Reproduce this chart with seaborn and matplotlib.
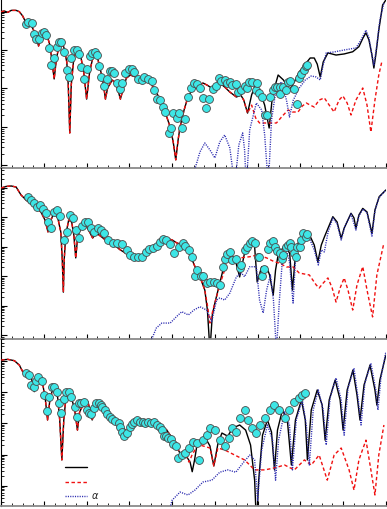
import numpy as np
import seaborn as sns
import matplotlib
matplotlib.use("Agg")
import matplotlib.pyplot as plt
from matplotlib.ticker import MultipleLocator, LogLocator, NullFormatter

# ---- panel 1 (top) ----
p1_shared_x = [0, 1.5, 3.1, 4.7, 7.0, 8.5, 10.1, 11.6, 13.0, 14.4, 15.8, 17.5, 18.6, 20.0, 21.4, 22.8, 23.7, 24.8, 25.8, 27.0,
               27.9, 29.3, 30.7, 31.4, 32.1, 32.8, 34.0, 35.7, 37.2, 38.6, 40.0, 41.4, 43.4, 45.1, 46.5, 47.9, 48.8, 49.8, 52.0, 53.5,
               54.9, 55.8, 57.2, 58.6, 60.5, 62.8, 65.1, 67.4, 69.8, 72.1, 74.4, 76.7, 79.1, 80.5, 81.7, 82.8, 83.7, 85.6, 87.4, 89.3,
               91.5, 94.4, 96.3, 98.5, 100.0, 102.3, 104.6, 107.0, 110.1, 112.1, 113.5, 115.3]
p1_shared_y = [9.9, 10.3, 9.5, 10.7, 10.7, 9.9, 7.6, 5.1, 4.5, 4.0, 2.8, 1.27, 2.05, 2.9, 2.45, 1.35, 0.55, 0.177, 0.55, 1.27,
               1.52, 1.2, 0.49, 0.123, 0.0070, 0.123, 0.62, 1.0, 0.70, 0.27, 0.053, 0.27, 0.84, 0.62, 0.30, 0.123, 0.053, 0.103, 0.166, 0.139,
               0.081, 0.053, 0.103, 0.187, 0.224, 0.199, 0.166, 0.157, 0.139, 0.091, 0.050, 0.0245, 0.010, 0.0041, 0.0014, 0.0046, 0.010, 0.0277, 0.060, 0.091,
               0.109, 0.139, 0.123, 0.103, 0.123, 0.139, 0.109, 0.081, 0.060, 0.068, 0.050, 0.023]
p1_black_x = [117.2, 119.1, 120.9, 123.3, 125.4, 127.0, 129.6, 132.1, 134.9, 137.2, 139.5, 142.3, 144.6, 146.5, 147.9, 149.3,
              150.7, 152.9, 156.7, 160.5, 164.5, 167.4, 169.3, 170.7, 172.1, 173.5, 174.4, 175.3, 176.7, 178.5, 180.0]
p1_black_y = [0.068, 0.131, 0.091, 0.037, 0.0094, 0.068, 0.224, 0.166, 0.091, 0.148, 0.27, 0.43, 0.62, 0.62, 0.43, 0.199,
              0.49, 0.84, 0.74, 0.79, 0.90, 1.22, 2.05, 2.8, 1.82, 0.74, 0.34, 0.74, 3.3, 14.8, 19.9]
p1_red_x = [117.2, 119.1, 120.9, 125.6, 128.8, 131.6, 134.3, 136.3, 138.9, 140.9, 142.8, 144.6, 146.5, 148.8, 151.2, 153.5,
            155.8, 158.1, 159.9, 161.9, 163.7, 166.0, 169.2, 171.2, 173.0, 174.9, 176.7, 178.1]
p1_red_y = [0.037, 0.0171, 0.0127, 0.0127, 0.0127, 0.0193, 0.0277, 0.0245, 0.0245, 0.035, 0.042, 0.037, 0.033, 0.050, 0.057, 0.037,
            0.0245, 0.050, 0.064, 0.042, 0.0205, 0.050, 0.103, 0.037, 0.0074, 0.050, 0.224, 0.49]
p1_blue_x = [88.4, 93.0, 95.3, 97.7, 100.0, 102.3, 104.6, 107.0, 109.3, 111.2, 113.0, 113.9, 114.7, 116.3, 119.4, 121.9, 123.3,
             125.0, 126.5, 128.8, 131.2, 133.5, 134.9, 136.7, 139.5, 142.3, 145.1, 147.4, 149.3, 150.7, 152.1, 155.8, 160.5, 166.0,
             168.4, 170.7, 172.1, 173.5, 174.4, 175.8, 177.2, 179.1]
p1_blue_y = [3e-4, 0.00224, 0.00384, 0.00253, 0.00157, 0.0041, 0.0062, 0.00285, 3e-4, 0.0034, 0.0070, 0.00253, 3e-4, 0.0084, 0.042,
             0.0277, 0.0062, 3e-4, 0.0152, 0.109, 0.148, 0.050, 0.0182, 0.050, 0.103, 0.166, 0.211, 0.199, 0.166, 0.41, 0.84, 0.89,
             1.0, 1.13, 1.82, 3.3, 2.05, 0.74, 0.41, 1.35, 6.0, 16.6]
p1_data_x = [11.6, 12.7, 14.3, 15.2, 16.3, 17.8, 18.9, 20.1, 20.9, 22.5, 23.3, 24.5, 26.0, 27.1, 28.2, 29.4, 30.7, 31.8, 32.9, 34.1,
             35.3, 36.4, 37.5, 38.7, 40.0, 41.5, 42.6, 43.7, 45.0, 45.7, 46.8, 48.0, 49.6, 50.8, 52.0, 53.0, 54.3, 55.5, 56.6, 58.1,
             59.7, 61.3, 62.3, 63.9, 65.9, 67.0, 68.5, 70.6, 71.6, 72.9, 74.1, 75.7, 76.7, 78.7, 79.4, 80.6, 82.2, 83.4, 84.8, 86.0,
             87.6, 88.8, 90.2, 91.5, 93.0, 94.6, 95.8, 97.3, 98.9, 100.5, 102.0, 103.1, 104.7, 105.7, 107.0, 107.8, 109.8, 110.8, 112.4, 114.0,
             115.0, 116.0, 117.5, 119.1, 119.9, 120.8, 121.9, 123.4, 124.2, 125.7, 127.0, 128.0, 129.2, 130.4, 130.7, 131.9, 133.2, 134.3, 135.0, 136.9,
             138.5, 139.4, 140.5, 141.5, 142.5, 143.1]
p1_data_y = [4.7, 5.4, 4.9, 2.6, 1.9, 1.9, 2.8, 3.0, 2.45, 1.11, 0.41, 0.61, 1.22, 1.64, 1.64, 0.90, 0.30, 0.20, 0.61, 1.0,
             1.0, 0.79, 0.37, 0.173, 0.33, 0.70, 0.85, 0.90, 0.74, 0.38, 0.20, 0.116, 0.173, 0.285, 0.285, 0.248, 0.136, 0.097, 0.136, 0.248,
             0.33, 0.33, 0.273, 0.173, 0.166, 0.195, 0.173, 0.160, 0.091, 0.052, 0.050, 0.0324, 0.0241, 0.0071, 0.0096, 0.0227, 0.0168, 0.0227, 0.0096, 0.0158,
             0.061, 0.105, 0.136, 0.131, 0.101, 0.056, 0.0306, 0.052, 0.095, 0.116, 0.184, 0.157, 0.166, 0.136, 0.150, 0.123, 0.131, 0.083, 0.091, 0.116,
             0.101, 0.150, 0.150, 0.091, 0.142, 0.075, 0.061, 0.0205, 0.0205, 0.061, 0.091, 0.107, 0.107, 0.111, 0.072, 0.107, 0.091, 0.150, 0.160, 0.095,
             0.040, 0.184, 0.238, 0.30, 0.38, 0.41]

# ---- panel 2 (middle) ----
p2_shared_x = [0, 2.3, 4.7, 7.0, 9.3, 11.6, 14.0, 16.3, 18.6, 20.5, 21.9, 23.3, 24.7, 26.5, 27.9, 28.6, 29.1, 29.5, 30.2, 31.6,
               33.0, 34.0, 34.9, 35.8, 37.2, 39.1, 40.9, 42.8, 44.6, 46.5, 48.8, 51.2, 53.5, 55.8, 58.1, 60.5, 65.1, 69.8, 74.4, 77.5,
               80.0, 82.2, 85.1, 88.4, 90.7, 93.0, 95.3]
p2_shared_y = [9.8, 11.1, 11.5, 10.6, 5.7, 3.9, 2.8, 2.2, 1.51, 0.81, 0.32, 0.81, 1.40, 0.95, 0.32, 0.036, 0.0029, 0.036, 0.25, 0.81,
               0.69, 0.25, 0.042, 0.215, 0.43, 0.59, 0.37, 0.199, 0.29, 0.23, 0.170, 0.135, 0.106, 0.078, 0.062, 0.053, 0.045, 0.078, 0.149, 0.194,
               0.170, 0.135, 0.115, 0.053, 0.0211, 0.0097, 0.0034]
p2_black_x = [96.5, 97.7, 98.8, 100.0, 102.3, 104.6, 107.0, 109.3, 111.6, 113.9, 116.6, 118.6, 119.8, 121.9, 124.2, 125.6, 127.3,
              128.4, 129.6, 132.7, 135.0, 136.3, 137.7, 138.9, 141.2, 144.3, 146.5, 148.2, 149.8, 151.3, 155.2, 157.2, 159.1, 160.5,
              163.7, 165.1, 166.0, 167.4, 169.2, 171.2, 173.5, 174.9, 176.9, 180.0]
p2_black_y = [7.2e-4, 3e-5, 4.9e-4, 0.00124, 0.0059, 0.028, 0.053, 0.042, 0.0095, 0.062, 0.149, 0.101, 0.0064, 0.0211, 0.0211,
              0.0111, 0.0023, 0.0164, 0.053, 0.115, 0.060, 0.0034, 0.053, 0.131, 0.287, 0.25, 0.115, 0.031, 0.115, 0.22, 1.05, 0.69,
              0.194, 0.43, 1.37, 0.95, 0.42, 1.20, 2.0, 1.51, 0.287, 1.77, 5.0, 8.4]
p2_red_x = [96.5, 97.7, 99.1, 100.8, 102.3, 104.6, 107.0, 111.6, 116.3, 120.0, 124.2, 127.9, 130.2, 133.5, 136.6, 139.5, 144.2,
            147.4, 148.8, 150.7, 152.9, 154.9, 156.7, 158.6, 160.5, 162.3, 164.5, 166.5, 169.2, 171.2, 173.8, 175.8, 179.1]
p2_red_y = [0.00106, 2.6e-4, 7.2e-4, 0.00203, 0.0051, 0.0166, 0.046, 0.042, 0.046, 0.053, 0.042, 0.031, 0.028, 0.0207, 0.0207,
            0.0129, 0.0111, 0.0051, 0.0040, 0.0059, 0.0088, 0.0040, 0.00134, 0.0040, 0.0088, 0.0034, 7.2e-4, 0.0051, 0.0213, 0.0034,
            4.2e-4, 0.0111, 0.135]
p2_blue_x = [68.8, 70.6, 72.6, 75.2, 79.1, 81.9, 84.5, 87.6, 90.2, 93.0, 96.1, 98.5, 100.8, 102.3, 104.6, 107.0, 110.1, 112.4,
             113.9, 116.3, 119.4, 120.9, 122.6, 124.2, 126.0, 127.4, 128.8, 130.2, 131.6, 133.5, 134.9, 136.6, 137.7, 139.1, 141.2,
             144.2, 146.5, 148.4, 149.8, 151.2, 153.0, 155.2, 157.2, 159.1, 160.9, 163.7, 166.0, 167.4, 169.3, 171.2, 173.5, 174.9,
             176.7, 180.0]
p2_blue_y = [3e-5, 7.8e-5, 1.77e-4, 2.6e-4, 2.6e-4, 4.2e-4, 6.3e-4, 4.9e-4, 7.2e-4, 9.3e-4, 7.2e-4, 2.9e-4, 0.00157, 0.00184,
             0.00157, 0.0027, 0.0097, 0.0129, 0.0097, 0.0211, 0.0211, 0.00157, 5.7e-4, 0.0034, 0.0111, 0.00157, 3e-5, 0.00157, 0.036,
             0.078, 0.031, 0.00124, 0.036, 0.135, 0.23, 0.199, 0.078, 0.0242, 0.078, 0.067, 0.32, 0.95, 0.59, 0.170, 0.51, 1.29, 0.37,
             1.10, 1.91, 1.40, 0.23, 1.64, 4.5, 8.4]
p2_data_x = [12.6, 14.0, 15.3, 16.7, 18.1, 19.5, 20.9, 22.1, 23.3, 24.7, 26.0, 27.4, 29.3, 30.7, 32.1, 33.5, 34.9, 36.3, 37.7, 39.1,
             40.5, 41.9, 43.3, 45.1, 46.5, 47.9, 49.8, 52.1, 54.4, 56.7, 59.1, 60.5, 62.0, 63.9, 65.9, 67.9, 69.4, 71.0, 72.9, 74.4,
             75.7, 77.2, 79.1, 80.9, 83.4, 85.0, 86.0, 88.0, 89.2, 90.7, 91.8, 93.3, 94.6, 96.1, 97.7, 99.5, 100.8, 102.3, 103.6, 104.6,
             105.7, 107.0, 107.8, 110.1, 111.6, 112.4, 113.9, 115.0, 116.3, 117.5, 118.6, 120.1, 120.8, 121.9, 122.9, 125.0, 126.0, 127.0, 128.0, 129.2,
             130.7, 131.2, 131.9, 133.2, 134.3, 135.0, 135.8, 136.9, 137.8, 138.5, 139.7, 140.5, 141.2, 142.5, 143.1]
p2_data_y = [4.9, 3.9, 3.05, 2.2, 2.6, 1.91, 1.40, 0.69, 0.43, 1.51, 1.77, 1.11, 0.170, 0.32, 1.20, 0.95, 0.37, 0.199, 0.51, 0.69,
             0.69, 0.43, 0.32, 0.43, 0.37, 0.29, 0.170, 0.135, 0.135, 0.124, 0.078, 0.053, 0.046, 0.044, 0.044, 0.068, 0.082, 0.093, 0.106, 0.149,
             0.184, 0.170, 0.124, 0.063, 0.096, 0.131, 0.106, 0.078, 0.044, 0.0102, 0.0164, 0.0102, 0.0102, 0.0061, 0.0066, 0.0066, 0.0058, 0.0051, 0.0211, 0.038,
             0.057, 0.068, 0.036, 0.038, 0.0187, 0.0242, 0.078, 0.101, 0.131, 0.161, 0.131, 0.046, 0.046, 0.0102, 0.0177, 0.084, 0.138, 0.161, 0.101, 0.074,
             0.060, 0.038, 0.053, 0.096, 0.115, 0.131, 0.096, 0.063, 0.044, 0.096, 0.096, 0.170, 0.287, 0.22, 0.27]

# ---- panel 3 (bottom) ----
p3_shared_x = [0, 3.1, 6.2, 8.5, 10.1, 11.6, 14.0, 15.5, 17.1, 19.4, 20.7, 21.7, 22.8, 24.0, 26.4, 27.4, 28.4, 29.3, 30.2, 32.6,
               34.4, 35.7, 36.7, 38.7, 40.6, 42.6, 44.2, 45.7, 48.8, 53.5, 57.3, 58.9, 62.0, 66.6, 71.3, 74.4, 77.5, 80.6, 83.7, 86.8]
p3_shared_y = [10.9, 11.5, 10.4, 7.5, 4.6, 4.1, 3.2, 1.05, 2.5, 1.95, 0.57, 0.129, 0.57, 1.19, 0.72, 0.129, 0.0067, 0.129, 0.57, 0.82,
               0.27, 0.061, 0.233, 0.44, 0.50, 0.129, 0.31, 0.44, 0.27, 0.129, 0.070, 0.054, 0.101, 0.129, 0.113, 0.089, 0.061, 0.029, 0.0109, 0.0085]
p3_black_x = [88.4, 89.4, 90.5, 91.5, 93.0, 95.3, 97.7, 99.5, 101.4, 103.3, 106.0, 108.4, 111.6, 114.4, 116.7, 118.6, 119.5, 120.5,
              122.3, 124.6, 126.5, 127.9, 129.3, 131.6, 133.9, 135.8, 137.7, 140.5, 142.3, 143.3, 145.1, 147.9, 150.2, 151.6, 153.5,
              156.3, 158.6, 160.0, 161.9, 164.6, 166.5, 167.9, 169.8, 172.6, 174.9, 175.8, 177.2, 180.0]
p3_black_y = [0.0057, 0.0028, 0.0067, 0.0178, 0.029, 0.037, 0.0188, 0.0043, 0.0218, 0.049, 0.039, 0.071, 0.089, 0.061, 0.0202,
              0.0015, 5e-5, 0.0015, 0.042, 0.129, 0.053, 0.0032, 0.061, 0.27, 0.129, 0.0046, 0.129, 0.57, 0.129, 0.0067, 0.27, 1.19,
              0.39, 0.029, 0.57, 2.5, 0.57, 0.061, 1.19, 5.2, 0.82, 0.129, 1.72, 7.5, 1.19, 0.39, 2.5, 15.8]
p3_red_x = [87.9, 89.3, 91.5, 93.0, 97.7, 99.5, 101.4, 104.6, 109.3, 113.9, 118.6, 123.3, 127.9, 132.6, 137.2, 141.9, 145.1,
            148.8, 152.6, 155.8, 159.1, 162.8, 165.1, 167.4, 170.7, 173.0, 174.9, 176.7, 179.1]
p3_red_y = [0.0057, 0.0096, 0.0175, 0.0202, 0.0162, 0.0043, 0.0162, 0.014, 0.0096, 0.0067, 0.0032, 0.0032, 0.0037, 0.0046, 0.0032,
            0.0067, 0.0046, 0.0096, 0.0015, 0.0096, 0.0162, 0.0032, 7.2e-4, 0.0067, 0.029, 0.0032, 5.0e-4, 0.0096, 0.089]
p3_blue_x = [76.7, 80.0, 83.7, 87.4, 90.7, 94.4, 98.6, 102.3, 106.0, 109.8, 113.5, 116.3, 118.6, 120.0, 121.9, 124.6, 127.0, 128.4,
             129.8, 132.6, 134.9, 136.3, 138.1, 140.9, 142.8, 144.2, 146.0, 148.4, 150.7, 152.1, 153.9, 156.7, 159.1, 160.5, 162.3,
             165.1, 167.0, 168.4, 170.2, 173.0, 175.3, 176.3, 177.7, 180.0]
p3_blue_y = [5e-5, 3.4e-4, 6.2e-4, 5.0e-4, 7.2e-4, 0.0013, 0.0015, 0.0027, 0.0032, 0.0027, 0.0057, 0.0096, 0.0067, 3.4e-4, 0.014,
             0.089, 0.029, 0.0015, 0.029, 0.233, 0.089, 0.0032, 0.129, 0.57, 0.089, 0.0046, 0.27, 1.19, 0.27, 0.0202, 0.66, 2.9, 0.57,
             0.042, 1.37, 6.0, 0.66, 0.089, 2.0, 8.7, 1.19, 0.27, 2.9, 19.8]
p3_data_x = [11.6, 13.2, 14.0, 15.2, 16.3, 17.3, 18.9, 20.1, 21.4, 22.5, 23.6, 24.8, 26.0, 27.1, 28.2, 29.4, 30.2, 31.8, 32.6, 34.4,
             35.3, 36.4, 37.5, 38.7, 40.0, 41.1, 42.2, 43.4, 44.6, 45.7, 46.5, 47.3, 48.4, 49.6, 50.8, 52.0, 53.5, 55.0, 55.5, 56.6,
             57.7, 58.9, 60.1, 61.3, 62.3, 63.6, 65.1, 66.4, 67.4, 68.5, 70.1, 71.6, 72.9, 74.1, 75.2, 76.0, 77.2, 78.3, 79.4, 80.6,
             81.9, 82.9, 84.5, 86.0, 88.0, 89.6, 91.5, 92.7, 94.4, 96.3, 97.7, 100.0, 102.3, 104.6, 106.5, 107.9, 109.8, 111.6, 113.9, 115.3,
             117.2, 119.1, 120.9, 123.3, 125.6, 127.9, 130.2, 132.6, 134.9, 137.2, 139.5, 140.9, 142.3]
p3_data_y = [4.1, 3.6, 1.72, 1.52, 2.4, 3.0, 2.4, 0.82, 0.26, 0.72, 1.52, 1.52, 1.05, 0.44, 0.21, 0.60, 1.05, 1.05, 0.72, 0.34,
             0.164, 0.44, 0.46, 0.50, 0.27, 0.21, 0.20, 0.31, 0.44, 0.46, 0.39, 0.34, 0.27, 0.20, 0.164, 0.136, 0.122, 0.105, 0.075, 0.054,
             0.039, 0.048, 0.075, 0.096, 0.113, 0.129, 0.113, 0.113, 0.105, 0.113, 0.105, 0.113, 0.089, 0.078, 0.061, 0.039, 0.039, 0.033, 0.031, 0.0218,
             0.0188, 0.0075, 0.0096, 0.0109, 0.0158, 0.026, 0.023, 0.0067, 0.029, 0.042, 0.071, 0.061, 0.029, 0.0188, 0.034, 0.071, 0.053, 0.149, 0.27, 0.129,
             0.071, 0.049, 0.089, 0.149, 0.27, 0.39, 0.27, 0.149, 0.27, 0.49, 0.66, 0.82, 0.95]

legend_labels = ["", "", r"$\alpha$"]

sns.set_style("ticks")

fig = plt.figure(figsize=(3.87, 5.09), dpi=100)

# axes boxes in figure fractions (left, bottom, width, height) and y ranges
boxes = [(0.003, 0.669, 0.994, 0.331), (0.003, 0.334, 0.994, 0.335), (0.003, 0.0059, 0.994, 0.328)]
ylims = [(8.36e-4, 19.9), (7.5e-5, 45.1), (2.21e-4, 51.7)]

panels = [
    (p1_shared_x, p1_shared_y, p1_black_x, p1_black_y, p1_red_x, p1_red_y, p1_blue_x, p1_blue_y, p1_data_x, p1_data_y),
    (p2_shared_x, p2_shared_y, p2_black_x, p2_black_y, p2_red_x, p2_red_y, p2_blue_x, p2_blue_y, p2_data_x, p2_data_y),
    (p3_shared_x, p3_shared_y, p3_black_x, p3_black_y, p3_red_x, p3_red_y, p3_blue_x, p3_blue_y, p3_data_x, p3_data_y),
]

axes = []
for box, ylim, p in zip(boxes, ylims, panels):
    sx, sy, bx, by, rx, ry, lx, ly, dx, dy = p
    ax = fig.add_axes(box)
    ax.set_yscale("log")

    sns.lineplot(x=sx + bx, y=sy + by, ax=ax, color="black", lw=1.0, estimator=None, sort=False, zorder=2)
    sns.lineplot(x=sx + rx, y=sy + ry, ax=ax, color="#f01010", lw=1.0, estimator=None, sort=False,
                 linestyle=(0, (2.5, 1.8)), zorder=3)
    sns.lineplot(x=lx, y=ly, ax=ax, color="#2a2ab0", lw=1.0, estimator=None, sort=False,
                 linestyle=(0, (0.8, 0.9)), zorder=3)
    sns.scatterplot(x=dx, y=dy, ax=ax, s=32, color="#3de6e6", edgecolor="#4a4a4a", linewidth=0.6, zorder=4)

    ax.set_xlim(0, 180)
    ax.set_ylim(*ylim)
    ax.xaxis.set_major_locator(MultipleLocator(20))
    ax.xaxis.set_minor_locator(MultipleLocator(5))
    ax.yaxis.set_major_locator(LogLocator(base=10, numticks=20))
    ax.yaxis.set_minor_locator(LogLocator(base=10, subs=np.arange(2, 10), numticks=100))
    ax.yaxis.set_minor_formatter(NullFormatter())
    ax.tick_params(which="both", direction="in", top=False, right=False,
                   labelbottom=False, labelleft=False, color="black")
    ax.tick_params(axis="x", which="major", length=3.5, width=0.8)
    ax.tick_params(axis="x", which="minor", length=2.0, width=0.6)
    ax.tick_params(axis="y", which="major", length=4.0, width=0.8)
    ax.tick_params(axis="y", which="minor", length=2.2, width=0.6)
    ax.set_xlabel("")
    ax.set_ylabel("")
    ax.spines["top"].set_visible(False)
    ax.spines["right"].set_visible(False)
    ax.spines["bottom"].set_color("#8a8a8a")
    ax.spines["bottom"].set_linewidth(1.3)
    ax.spines["left"].set_color("black")
    ax.spines["left"].set_linewidth(0.8)
    ax.patch.set_alpha(0)
    axes.append(ax)

# legend in the bottom panel
ax3 = axes[2]
handles = ax3.get_lines()[:3]
ax3.legend(handles, legend_labels, loc="upper left", bbox_to_anchor=(0.165, 0.26), frameon=False,
           fontsize=7, handlelength=2.3, handletextpad=0.4, labelspacing=0.45, borderpad=0, borderaxespad=0)

fig.savefig("out.png", dpi=100)
